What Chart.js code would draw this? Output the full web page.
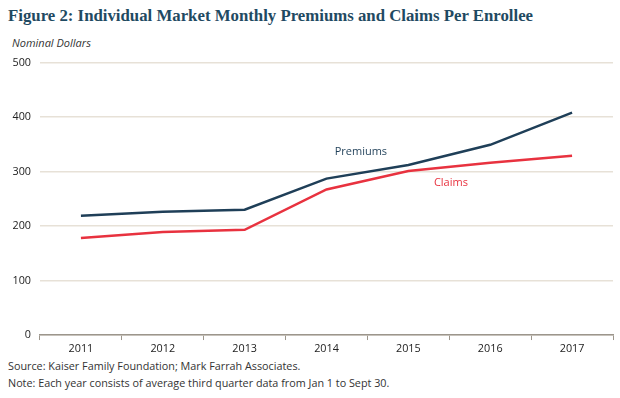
<!DOCTYPE html>
<html>
<head>
<meta charset="utf-8">
<script src="https://cdn.jsdelivr.net/npm/chart.js@4"></script>
<style>
body { margin: 0; background: #fff; width: 620px; height: 398px; position: relative; overflow: hidden; font-family: "Open Sans", sans-serif; }
#title { position: absolute; left: 8px; top: 6px; font-family: "Liberation Serif", serif; font-weight: bold; font-size: 16.8px; color: #1f4a62; white-space: nowrap; }
#unit { position: absolute; left: 12px; top: 35px; font-style: italic; font-size: 11px; color: #333; }
#box { position: absolute; left: 0; top: 47px; width: 620px; height: 310px; }
.note { position: absolute; left: 8px; font-size: 10.8px; color: #333; white-space: nowrap; }
</style>
</head>
<body>
<div id="title">Figure 2: Individual Market Monthly Premiums and Claims Per Enrollee</div>
<div id="unit">Nominal Dollars</div>
<div id="box"><canvas id="chart0"></canvas></div>
<div class="note" style="top:358px">Source: Kaiser Family Foundation; Mark Farrah Associates.</div>
<div class="note" style="top:375px">Note: Each year consists of average third quarter data from Jan 1 to Sept 30.</div>
<script>
var years    = ['2011', '2012', '2013', '2014', '2015', '2016', '2017'];
var premiums = [219, 226, 230, 287, 312, 349, 408];
var claims   = [178, 189, 193, 267, 301, 316, 329];
var yTicks   = [0, 100, 200, 300, 400, 500];

// text labels next to the lines, placed at [category index, value]
var lineLabels = [
    { text: 'Premiums', at: [3.42, 336], color: '#1f3f58' },
    { text: 'Claims',   at: [4.52, 279], color: '#e8323f' }
];

var lineLabelPlugin = {
    id: 'lineLabels',
    afterDatasetsDraw: function (chart) {
        var ctx = chart.ctx;
        var xs = chart.scales.x, ys = chart.scales.y;
        ctx.save();
        ctx.font = '11px "Open Sans"';
        ctx.textAlign = 'center';
        ctx.textBaseline = 'middle';
        lineLabels.forEach(function (l) {
            var i = Math.floor(l.at[0]), f = l.at[0] - i;
            var x = xs.getPixelForValue(i) + f * (xs.getPixelForValue(i + 1) - xs.getPixelForValue(i));
            ctx.fillStyle = l.color;
            ctx.fillText(l.text, x, ys.getPixelForValue(l.at[1]));
        });
        ctx.restore();
    }
};

new Chart(document.getElementById('chart0'), {
    type: 'line',
    data: {
        labels: years,
        datasets: [{
            label: 'Premiums',
            data: premiums,
            borderColor: '#1f3f58',
            borderWidth: 2.5,
            pointRadius: 0,
            tension: 0,
            fill: false
        }, {
            label: 'Claims',
            data: claims,
            borderColor: '#e8323f',
            borderWidth: 2.5,
            pointRadius: 0,
            tension: 0,
            fill: false
        }]
    },
    options: {
        responsive: true,
        maintainAspectRatio: false,
        animation: false,
        layout: { padding: { top: 4, right: 7, left: 0, bottom: 0 } },
        plugins: {
            legend: false,
            tooltip: { enabled: false }
        },
        scales: {
            x: {
                offset: true,
                grid: {
                    offset: true,
                    drawOnChartArea: false,
                    color: '#9c968c',
                    tickLength: 5
                },
                border: { color: '#9c968c', width: 1.5 },
                ticks: { color: '#222', font: { family: 'Open Sans', size: 10.8 }, padding: 2 }
            },
            y: {
                min: 0,
                max: 500,
                afterBuildTicks: function (axis) {
                    axis.ticks = yTicks.map(function (v) { return { value: v }; });
                },
                afterFit: function (axis) { axis.width = 40; },
                grid: { color: '#e7e1d7', lineWidth: 1.5, drawTicks: false },
                border: { display: false },
                ticks: { color: '#222', font: { family: 'Open Sans', size: 10.8 }, padding: 9 }
            }
        }
    },
    plugins: [lineLabelPlugin]
});
</script>
</body>
</html>
